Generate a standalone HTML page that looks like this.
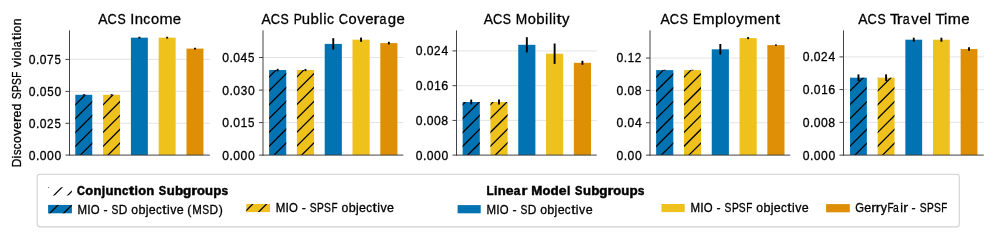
<!DOCTYPE html>
<html><head><meta charset="utf-8"><style>html,body{margin:0;padding:0;background:#fff;overflow:hidden}</style></head><body>
<svg width="996" height="233" viewBox="0 0 996 233" style="display:block;font-kerning:none;will-change:transform">
<defs><clipPath id="c1"><rect x="75.3" y="94.8" width="16.95" height="60.3"/></clipPath><clipPath id="c2"><rect x="103.1" y="94.8" width="16.95" height="60.3"/></clipPath><clipPath id="c3"><rect x="269.1" y="70.05" width="17.15" height="85.05"/></clipPath><clipPath id="c4"><rect x="296.9" y="70.05" width="17.15" height="85.05"/></clipPath><clipPath id="c5"><rect x="462.65" y="102" width="17.15" height="53.1"/></clipPath><clipPath id="c6"><rect x="490.45" y="102" width="17.15" height="53.1"/></clipPath><clipPath id="c7"><rect x="656.15" y="70.1" width="17.15" height="85"/></clipPath><clipPath id="c8"><rect x="683.95" y="70.1" width="17.15" height="85"/></clipPath><clipPath id="c9"><rect x="850.05" y="77.7" width="16.8" height="77.4"/></clipPath><clipPath id="c10"><rect x="877.7" y="77.7" width="16.8" height="77.4"/></clipPath><clipPath id="c11"><rect x="48.1" y="187.2" width="23.8" height="8.2"/></clipPath><clipPath id="c12"><rect x="48.1" y="204.9" width="23.8" height="8.4"/></clipPath><clipPath id="c13"><rect x="246.3" y="204" width="23.7" height="8.1"/></clipPath></defs>
<rect width="996" height="233" fill="#fff"/>
<line x1="69.5" x2="209.8" y1="123.3" y2="123.3" stroke="#e3e3e3" stroke-width="0.95"/>
<line x1="69.5" x2="209.8" y1="91.4" y2="91.4" stroke="#e3e3e3" stroke-width="0.95"/>
<line x1="69.5" x2="209.8" y1="59.4" y2="59.4" stroke="#e3e3e3" stroke-width="0.95"/>
<rect x="75.3" y="94.8" width="16.95" height="60.3" fill="#0173B2"/>
<path clip-path="url(#c1)" d="M74.3 105.8L86.3 93.8M74.3 119.63L93.25 100.68M74.3 133.46L93.25 114.51M74.3 147.3L93.25 128.34M79.33 156.1L93.25 142.18M93.16 156.1L93.25 156.01" stroke="#000" stroke-width="1.25" fill="none"/>
<rect x="103.1" y="94.8" width="16.95" height="60.3" fill="#EEC11C"/>
<path clip-path="url(#c2)" d="M102.1 105.66L113.96 93.8M102.1 119.5L121.05 100.55M102.1 133.33L121.05 114.38M102.1 147.16L121.05 128.21M106.99 156.1L121.05 142.04M120.83 156.1L121.05 155.88" stroke="#000" stroke-width="1.25" fill="none"/>
<rect x="130.9" y="37.66" width="16.95" height="117.44" fill="#0173B2"/>
<rect x="158.7" y="37.66" width="16.95" height="117.44" fill="#EEC11C"/>
<rect x="186.5" y="48.6" width="16.95" height="106.5" fill="#DE8F05"/>
<line x1="83.77" x2="83.77" y1="94.2" y2="95.4" stroke="#000" stroke-width="1.9"/>
<line x1="111.57" x2="111.57" y1="94.2" y2="95.4" stroke="#000" stroke-width="1.9"/>
<line x1="139.38" x2="139.38" y1="36.76" y2="38.56" stroke="#000" stroke-width="1.9"/>
<line x1="167.17" x2="167.17" y1="36.76" y2="38.56" stroke="#000" stroke-width="1.9"/>
<line x1="194.97" x2="194.97" y1="47.7" y2="49.5" stroke="#000" stroke-width="1.9"/>
<line x1="69.5" x2="69.5" y1="30.4" y2="155.57" stroke="#3a3a3a" stroke-width="0.95"/>
<line x1="69.03" x2="209.8" y1="155.1" y2="155.1" stroke="#3a3a3a" stroke-width="0.95"/>
<line x1="65.47" x2="69.5" y1="155.1" y2="155.1" stroke="#3a3a3a" stroke-width="0.95"/>
<g font-family="Liberation Sans, sans-serif" font-size="12.22" stroke="#000" stroke-width="0.3"><text transform="matrix(0.994 0 0 1 28.72 159.5)">0</text><text x="35.9" y="159.5">.</text><text transform="matrix(0.994 0 0 1 39.72 159.5)">0</text><text transform="matrix(0.994 0 0 1 47.05 159.5)">0</text><text transform="matrix(0.994 0 0 1 54.39 159.5)">0</text></g>
<line x1="65.47" x2="69.5" y1="123.3" y2="123.3" stroke="#3a3a3a" stroke-width="0.95"/>
<g font-family="Liberation Sans, sans-serif" font-size="12.22" stroke="#000" stroke-width="0.3"><text transform="matrix(0.994 0 0 1 28.72 127.7)">0</text><text x="35.9" y="127.7">.</text><text transform="matrix(0.994 0 0 1 39.72 127.7)">0</text><text transform="matrix(0.959 0 0 1 47.02 127.7)">2</text><text transform="matrix(0.939 0 0 1 54.53 127.7)">5</text></g>
<line x1="65.47" x2="69.5" y1="91.4" y2="91.4" stroke="#3a3a3a" stroke-width="0.95"/>
<g font-family="Liberation Sans, sans-serif" font-size="12.22" stroke="#000" stroke-width="0.3"><text transform="matrix(0.994 0 0 1 28.72 95.8)">0</text><text x="35.9" y="95.8">.</text><text transform="matrix(0.994 0 0 1 39.72 95.8)">0</text><text transform="matrix(0.939 0 0 1 47.2 95.8)">5</text><text transform="matrix(0.994 0 0 1 54.39 95.8)">0</text></g>
<line x1="65.47" x2="69.5" y1="59.4" y2="59.4" stroke="#3a3a3a" stroke-width="0.95"/>
<g font-family="Liberation Sans, sans-serif" font-size="12.22" stroke="#000" stroke-width="0.3"><text transform="matrix(0.994 0 0 1 28.72 63.8)">0</text><text x="35.9" y="63.8">.</text><text transform="matrix(0.994 0 0 1 39.72 63.8)">0</text><text transform="matrix(0.973 0 0 1 47.11 63.8)">7</text><text transform="matrix(0.939 0 0 1 54.53 63.8)">5</text></g>
<g font-family="Liberation Sans, sans-serif" font-size="14.66" stroke="#000" stroke-width="0.3"><text transform="matrix(0.950 0 0 1 98.32 23.8)">A</text><text transform="matrix(0.876 0 0 1 107.59 23.8)">C</text><text transform="matrix(0.841 0 0 1 117.47 23.8)">S</text><text x="130.3" y="23.8">I</text><text transform="matrix(1.017 0 0 1 134.64 23.8)">n</text><text transform="matrix(0.947 0 0 1 143.31 23.8)">c</text><text x="150.89" y="23.8">o</text><text transform="matrix(1.075 0 0 1 159.41 23.8)">m</text><text transform="matrix(1.019 0 0 1 172.8 23.8)">e</text></g>
<line x1="263" x2="403.3" y1="122.6" y2="122.6" stroke="#e3e3e3" stroke-width="0.95"/>
<line x1="263" x2="403.3" y1="90.1" y2="90.1" stroke="#e3e3e3" stroke-width="0.95"/>
<line x1="263" x2="403.3" y1="57.5" y2="57.5" stroke="#e3e3e3" stroke-width="0.95"/>
<rect x="269.1" y="70.05" width="17.15" height="85.05" fill="#0173B2"/>
<path clip-path="url(#c3)" d="M268.1 77.99L277.04 69.05M268.1 91.82L287.25 72.68M268.1 105.66L287.25 86.51M268.1 119.49L287.25 100.34M268.1 133.32L287.25 114.17M268.1 147.16L287.25 128.01M272.99 156.1L287.25 141.84M286.82 156.1L287.25 155.67" stroke="#000" stroke-width="1.25" fill="none"/>
<rect x="296.9" y="70.05" width="17.15" height="85.05" fill="#EEC11C"/>
<path clip-path="url(#c4)" d="M295.9 77.86L304.71 69.05M295.9 91.69L315.05 72.54M295.9 105.52L315.05 86.37M295.9 119.36L315.05 100.21M295.9 133.19L315.05 114.04M295.9 147.02L315.05 127.87M300.66 156.1L315.05 141.71M314.49 156.1L315.05 155.54" stroke="#000" stroke-width="1.25" fill="none"/>
<rect x="324.7" y="43.9" width="17.15" height="111.2" fill="#0173B2"/>
<rect x="352.5" y="39.7" width="17.15" height="115.4" fill="#EEC11C"/>
<rect x="380.3" y="43.1" width="17.15" height="112" fill="#DE8F05"/>
<line x1="277.68" x2="277.68" y1="68.85" y2="71.25" stroke="#000" stroke-width="1.9"/>
<line x1="305.48" x2="305.48" y1="68.95" y2="71.15" stroke="#000" stroke-width="1.9"/>
<line x1="333.28" x2="333.28" y1="38.2" y2="49.6" stroke="#000" stroke-width="1.9"/>
<line x1="361.07" x2="361.07" y1="37.6" y2="41.8" stroke="#000" stroke-width="1.9"/>
<line x1="388.88" x2="388.88" y1="41.8" y2="44.4" stroke="#000" stroke-width="1.9"/>
<line x1="263" x2="263" y1="30.4" y2="155.57" stroke="#3a3a3a" stroke-width="0.95"/>
<line x1="262.52" x2="403.3" y1="155.1" y2="155.1" stroke="#3a3a3a" stroke-width="0.95"/>
<line x1="258.97" x2="263" y1="155.1" y2="155.1" stroke="#3a3a3a" stroke-width="0.95"/>
<g font-family="Liberation Sans, sans-serif" font-size="12.22" stroke="#000" stroke-width="0.3"><text transform="matrix(0.994 0 0 1 222.22 159.5)">0</text><text x="229.4" y="159.5">.</text><text transform="matrix(0.994 0 0 1 233.22 159.5)">0</text><text transform="matrix(0.994 0 0 1 240.55 159.5)">0</text><text transform="matrix(0.994 0 0 1 247.89 159.5)">0</text></g>
<line x1="258.97" x2="263" y1="122.6" y2="122.6" stroke="#3a3a3a" stroke-width="0.95"/>
<g font-family="Liberation Sans, sans-serif" font-size="12.22" stroke="#000" stroke-width="0.3"><text transform="matrix(0.994 0 0 1 222.22 127)">0</text><text x="229.4" y="127">.</text><text transform="matrix(0.994 0 0 1 233.22 127)">0</text><text transform="matrix(0.950 0 0 1 240.65 127)">1</text><text transform="matrix(0.939 0 0 1 248.03 127)">5</text></g>
<line x1="258.97" x2="263" y1="90.1" y2="90.1" stroke="#3a3a3a" stroke-width="0.95"/>
<g font-family="Liberation Sans, sans-serif" font-size="12.22" stroke="#000" stroke-width="0.3"><text transform="matrix(0.994 0 0 1 222.22 94.5)">0</text><text x="229.4" y="94.5">.</text><text transform="matrix(0.994 0 0 1 233.22 94.5)">0</text><text transform="matrix(0.955 0 0 1 240.7 94.5)">3</text><text transform="matrix(0.994 0 0 1 247.89 94.5)">0</text></g>
<line x1="258.97" x2="263" y1="57.5" y2="57.5" stroke="#3a3a3a" stroke-width="0.95"/>
<g font-family="Liberation Sans, sans-serif" font-size="12.22" stroke="#000" stroke-width="0.3"><text transform="matrix(0.994 0 0 1 222.22 61.9)">0</text><text x="229.4" y="61.9">.</text><text transform="matrix(0.994 0 0 1 233.22 61.9)">0</text><text transform="matrix(0.995 0 0 1 240.55 61.9)">4</text><text transform="matrix(0.939 0 0 1 248.03 61.9)">5</text></g>
<g font-family="Liberation Sans, sans-serif" font-size="14.66" stroke="#000" stroke-width="0.3"><text transform="matrix(0.950 0 0 1 261.43 23.8)">A</text><text transform="matrix(0.876 0 0 1 270.69 23.8)">C</text><text transform="matrix(0.841 0 0 1 280.57 23.8)">S</text><text transform="matrix(0.834 0 0 1 293.75 23.8)">P</text><text transform="matrix(1.017 0 0 1 301.7 23.8)">u</text><text transform="matrix(1.026 0 0 1 310.54 23.8)">b</text><text x="319.33" y="23.8">l</text><text x="323.18" y="23.8">i</text><text transform="matrix(0.947 0 0 1 326.89 23.8)">c</text><text transform="matrix(0.876 0 0 1 338.85 23.8)">C</text><text x="348.52" y="23.8">o</text><text transform="matrix(1.018 0 0 1 357.2 23.8)">v</text><text transform="matrix(1.019 0 0 1 365.15 23.8)">e</text><text transform="matrix(1.209 0 0 1 373.61 23.8)">r</text><text transform="matrix(0.848 0 0 1 379.52 23.8)">a</text><text transform="matrix(1.025 0 0 1 387.82 23.8)">g</text><text transform="matrix(1.019 0 0 1 396.6 23.8)">e</text></g>
<line x1="456.5" x2="596.8" y1="120.4" y2="120.4" stroke="#e3e3e3" stroke-width="0.95"/>
<line x1="456.5" x2="596.8" y1="85.7" y2="85.7" stroke="#e3e3e3" stroke-width="0.95"/>
<line x1="456.5" x2="596.8" y1="50.9" y2="50.9" stroke="#e3e3e3" stroke-width="0.95"/>
<rect x="462.65" y="102" width="17.15" height="53.1" fill="#0173B2"/>
<path clip-path="url(#c5)" d="M461.65 105.77L466.42 101M461.65 119.6L480.25 101M461.65 133.44L480.8 114.29M461.65 147.27L480.8 128.12M466.65 156.1L480.8 141.95M480.49 156.1L480.8 155.79" stroke="#000" stroke-width="1.25" fill="none"/>
<rect x="490.45" y="102" width="17.15" height="53.1" fill="#EEC11C"/>
<path clip-path="url(#c6)" d="M489.45 105.64L494.09 101M489.45 119.47L507.92 101M489.45 133.3L508.6 114.15M489.45 147.14L508.6 127.99M494.32 156.1L508.6 141.82M508.15 156.1L508.6 155.65" stroke="#000" stroke-width="1.25" fill="none"/>
<rect x="518.25" y="44.8" width="17.15" height="110.3" fill="#0173B2"/>
<rect x="546.05" y="53.7" width="17.15" height="101.4" fill="#EEC11C"/>
<rect x="573.85" y="62.8" width="17.15" height="92.3" fill="#DE8F05"/>
<line x1="471.22" x2="471.22" y1="99.6" y2="104.4" stroke="#000" stroke-width="1.9"/>
<line x1="499.02" x2="499.02" y1="99.6" y2="104.4" stroke="#000" stroke-width="1.9"/>
<line x1="526.83" x2="526.83" y1="37.2" y2="52.4" stroke="#000" stroke-width="1.9"/>
<line x1="554.62" x2="554.62" y1="43.5" y2="63.9" stroke="#000" stroke-width="1.9"/>
<line x1="582.43" x2="582.43" y1="60.8" y2="64.8" stroke="#000" stroke-width="1.9"/>
<line x1="456.5" x2="456.5" y1="30.4" y2="155.57" stroke="#3a3a3a" stroke-width="0.95"/>
<line x1="456.02" x2="596.8" y1="155.1" y2="155.1" stroke="#3a3a3a" stroke-width="0.95"/>
<line x1="452.47" x2="456.5" y1="155.1" y2="155.1" stroke="#3a3a3a" stroke-width="0.95"/>
<g font-family="Liberation Sans, sans-serif" font-size="12.22" stroke="#000" stroke-width="0.3"><text transform="matrix(0.994 0 0 1 415.72 159.5)">0</text><text x="422.9" y="159.5">.</text><text transform="matrix(0.994 0 0 1 426.72 159.5)">0</text><text transform="matrix(0.994 0 0 1 434.05 159.5)">0</text><text transform="matrix(0.994 0 0 1 441.39 159.5)">0</text></g>
<line x1="452.47" x2="456.5" y1="120.4" y2="120.4" stroke="#3a3a3a" stroke-width="0.95"/>
<g font-family="Liberation Sans, sans-serif" font-size="12.22" stroke="#000" stroke-width="0.3"><text transform="matrix(0.994 0 0 1 415.72 124.8)">0</text><text x="422.9" y="124.8">.</text><text transform="matrix(0.994 0 0 1 426.72 124.8)">0</text><text transform="matrix(0.994 0 0 1 434.05 124.8)">0</text><text transform="matrix(1.005 0 0 1 441.35 124.8)">8</text></g>
<line x1="452.47" x2="456.5" y1="85.7" y2="85.7" stroke="#3a3a3a" stroke-width="0.95"/>
<g font-family="Liberation Sans, sans-serif" font-size="12.22" stroke="#000" stroke-width="0.3"><text transform="matrix(0.994 0 0 1 415.72 90.1)">0</text><text x="422.9" y="90.1">.</text><text transform="matrix(0.994 0 0 1 426.72 90.1)">0</text><text transform="matrix(0.950 0 0 1 434.15 90.1)">1</text><text transform="matrix(1.029 0 0 1 441.27 90.1)">6</text></g>
<line x1="452.47" x2="456.5" y1="50.9" y2="50.9" stroke="#3a3a3a" stroke-width="0.95"/>
<g font-family="Liberation Sans, sans-serif" font-size="12.22" stroke="#000" stroke-width="0.3"><text transform="matrix(0.994 0 0 1 415.72 55.3)">0</text><text x="422.9" y="55.3">.</text><text transform="matrix(0.994 0 0 1 426.72 55.3)">0</text><text transform="matrix(0.959 0 0 1 434.02 55.3)">2</text><text transform="matrix(0.995 0 0 1 441.39 55.3)">4</text></g>
<g font-family="Liberation Sans, sans-serif" font-size="14.66" stroke="#000" stroke-width="0.3"><text transform="matrix(0.950 0 0 1 483.65 23.8)">A</text><text transform="matrix(0.876 0 0 1 492.92 23.8)">C</text><text transform="matrix(0.841 0 0 1 502.8 23.8)">S</text><text transform="matrix(0.941 0 0 1 515.85 23.8)">M</text><text x="527.7" y="23.8">o</text><text transform="matrix(1.026 0 0 1 536.3 23.8)">b</text><text x="545.09" y="23.8">i</text><text x="548.93" y="23.8">l</text><text x="552.78" y="23.8">i</text><text transform="matrix(1.261 0 0 1 556.41 23.8)">t</text><text transform="matrix(1.013 0 0 1 562.12 23.8)">y</text></g>
<line x1="650" x2="790.3" y1="122.75" y2="122.75" stroke="#e3e3e3" stroke-width="0.95"/>
<line x1="650" x2="790.3" y1="90.4" y2="90.4" stroke="#e3e3e3" stroke-width="0.95"/>
<line x1="650" x2="790.3" y1="58.05" y2="58.05" stroke="#e3e3e3" stroke-width="0.95"/>
<rect x="656.15" y="70.1" width="17.15" height="85" fill="#0173B2"/>
<path clip-path="url(#c7)" d="M655.15 78.27L664.32 69.1M655.15 92.1L674.3 72.95M655.15 105.93L674.3 86.78M655.15 119.77L674.3 100.62M655.15 133.6L674.3 114.45M655.15 147.43L674.3 128.28M660.31 156.1L674.3 142.11M674.15 156.1L674.3 155.95" stroke="#000" stroke-width="1.25" fill="none"/>
<rect x="683.95" y="70.1" width="17.15" height="85" fill="#EEC11C"/>
<path clip-path="url(#c8)" d="M682.95 78.13L691.98 69.1M682.95 91.97L702.1 72.82M682.95 105.8L702.1 86.65M682.95 119.63L702.1 100.48M682.95 133.46L702.1 114.31M682.95 147.3L702.1 128.15M687.98 156.1L702.1 141.98M701.81 156.1L702.1 155.81" stroke="#000" stroke-width="1.25" fill="none"/>
<rect x="711.75" y="49.3" width="17.15" height="105.8" fill="#0173B2"/>
<rect x="739.55" y="38.1" width="17.15" height="117" fill="#EEC11C"/>
<rect x="767.35" y="45.1" width="17.15" height="110" fill="#DE8F05"/>
<line x1="664.73" x2="664.73" y1="69.75" y2="70.45" stroke="#000" stroke-width="1.9"/>
<line x1="692.52" x2="692.52" y1="69.75" y2="70.45" stroke="#000" stroke-width="1.9"/>
<line x1="720.33" x2="720.33" y1="44" y2="54.6" stroke="#000" stroke-width="1.9"/>
<line x1="748.12" x2="748.12" y1="37.1" y2="39.1" stroke="#000" stroke-width="1.9"/>
<line x1="775.93" x2="775.93" y1="44.4" y2="45.8" stroke="#000" stroke-width="1.9"/>
<line x1="650" x2="650" y1="30.4" y2="155.57" stroke="#3a3a3a" stroke-width="0.95"/>
<line x1="649.52" x2="790.3" y1="155.1" y2="155.1" stroke="#3a3a3a" stroke-width="0.95"/>
<line x1="645.97" x2="650" y1="155.1" y2="155.1" stroke="#3a3a3a" stroke-width="0.95"/>
<g font-family="Liberation Sans, sans-serif" font-size="12.22" stroke="#000" stroke-width="0.3"><text transform="matrix(0.994 0 0 1 616.55 159.5)">0</text><text x="623.73" y="159.5">.</text><text transform="matrix(0.994 0 0 1 627.55 159.5)">0</text><text transform="matrix(0.994 0 0 1 634.89 159.5)">0</text></g>
<line x1="645.97" x2="650" y1="122.75" y2="122.75" stroke="#3a3a3a" stroke-width="0.95"/>
<g font-family="Liberation Sans, sans-serif" font-size="12.22" stroke="#000" stroke-width="0.3"><text transform="matrix(0.994 0 0 1 616.55 127.15)">0</text><text x="623.73" y="127.15">.</text><text transform="matrix(0.994 0 0 1 627.55 127.15)">0</text><text transform="matrix(0.995 0 0 1 634.89 127.15)">4</text></g>
<line x1="645.97" x2="650" y1="90.4" y2="90.4" stroke="#3a3a3a" stroke-width="0.95"/>
<g font-family="Liberation Sans, sans-serif" font-size="12.22" stroke="#000" stroke-width="0.3"><text transform="matrix(0.994 0 0 1 616.55 94.8)">0</text><text x="623.73" y="94.8">.</text><text transform="matrix(0.994 0 0 1 627.55 94.8)">0</text><text transform="matrix(1.005 0 0 1 634.85 94.8)">8</text></g>
<line x1="645.97" x2="650" y1="58.05" y2="58.05" stroke="#3a3a3a" stroke-width="0.95"/>
<g font-family="Liberation Sans, sans-serif" font-size="12.22" stroke="#000" stroke-width="0.3"><text transform="matrix(0.994 0 0 1 616.55 62.45)">0</text><text x="623.73" y="62.45">.</text><text transform="matrix(0.950 0 0 1 627.65 62.45)">1</text><text transform="matrix(0.959 0 0 1 634.86 62.45)">2</text></g>
<g font-family="Liberation Sans, sans-serif" font-size="14.66" stroke="#000" stroke-width="0.3"><text transform="matrix(0.950 0 0 1 660.59 23.8)">A</text><text transform="matrix(0.876 0 0 1 669.86 23.8)">C</text><text transform="matrix(0.841 0 0 1 679.74 23.8)">S</text><text transform="matrix(0.818 0 0 1 692.94 23.8)">E</text><text transform="matrix(1.075 0 0 1 701.51 23.8)">m</text><text transform="matrix(1.026 0 0 1 715.06 23.8)">p</text><text x="723.84" y="23.8">l</text><text x="727.54" y="23.8">o</text><text transform="matrix(1.013 0 0 1 736.23 23.8)">y</text><text transform="matrix(1.075 0 0 1 744.25 23.8)">m</text><text transform="matrix(1.019 0 0 1 757.64 23.8)">e</text><text transform="matrix(1.017 0 0 1 766.29 23.8)">n</text><text transform="matrix(1.261 0 0 1 774.88 23.8)">t</text></g>
<line x1="843.5" x2="983.8" y1="122.4" y2="122.4" stroke="#e3e3e3" stroke-width="0.95"/>
<line x1="843.5" x2="983.8" y1="89.6" y2="89.6" stroke="#e3e3e3" stroke-width="0.95"/>
<line x1="843.5" x2="983.8" y1="56.9" y2="56.9" stroke="#e3e3e3" stroke-width="0.95"/>
<rect x="850.05" y="77.7" width="16.8" height="77.4" fill="#0173B2"/>
<path clip-path="url(#c9)" d="M849.05 78.03L850.38 76.7M849.05 91.86L864.21 76.7M849.05 105.69L867.85 86.89M849.05 119.53L867.85 100.73M849.05 133.36L867.85 114.56M849.05 147.19L867.85 128.39M853.98 156.1L867.85 142.23M867.81 156.1L867.85 156.06" stroke="#000" stroke-width="1.25" fill="none"/>
<rect x="877.7" y="77.7" width="16.8" height="77.4" fill="#EEC11C"/>
<path clip-path="url(#c10)" d="M876.7 78.04L878.04 76.7M876.7 91.88L891.88 76.7M876.7 105.71L895.5 86.91M876.7 119.54L895.5 100.74M876.7 133.38L895.5 114.58M876.7 147.21L895.5 128.41M881.64 156.1L895.5 142.24M895.47 156.1L895.5 156.07" stroke="#000" stroke-width="1.25" fill="none"/>
<rect x="905.35" y="39.7" width="16.8" height="115.4" fill="#0173B2"/>
<rect x="933" y="39.7" width="16.8" height="115.4" fill="#EEC11C"/>
<rect x="960.65" y="49.05" width="16.8" height="106.05" fill="#DE8F05"/>
<line x1="858.45" x2="858.45" y1="74.4" y2="81" stroke="#000" stroke-width="1.9"/>
<line x1="886.1" x2="886.1" y1="74.4" y2="81" stroke="#000" stroke-width="1.9"/>
<line x1="913.75" x2="913.75" y1="37.7" y2="41.7" stroke="#000" stroke-width="1.9"/>
<line x1="941.4" x2="941.4" y1="37.7" y2="41.7" stroke="#000" stroke-width="1.9"/>
<line x1="969.05" x2="969.05" y1="47.25" y2="50.85" stroke="#000" stroke-width="1.9"/>
<line x1="843.5" x2="843.5" y1="30.4" y2="155.57" stroke="#3a3a3a" stroke-width="0.95"/>
<line x1="843.02" x2="983.8" y1="155.1" y2="155.1" stroke="#3a3a3a" stroke-width="0.95"/>
<line x1="839.47" x2="843.5" y1="155.1" y2="155.1" stroke="#3a3a3a" stroke-width="0.95"/>
<g font-family="Liberation Sans, sans-serif" font-size="12.22" stroke="#000" stroke-width="0.3"><text transform="matrix(0.994 0 0 1 802.72 159.5)">0</text><text x="809.9" y="159.5">.</text><text transform="matrix(0.994 0 0 1 813.72 159.5)">0</text><text transform="matrix(0.994 0 0 1 821.05 159.5)">0</text><text transform="matrix(0.994 0 0 1 828.39 159.5)">0</text></g>
<line x1="839.47" x2="843.5" y1="122.4" y2="122.4" stroke="#3a3a3a" stroke-width="0.95"/>
<g font-family="Liberation Sans, sans-serif" font-size="12.22" stroke="#000" stroke-width="0.3"><text transform="matrix(0.994 0 0 1 802.72 126.8)">0</text><text x="809.9" y="126.8">.</text><text transform="matrix(0.994 0 0 1 813.72 126.8)">0</text><text transform="matrix(0.994 0 0 1 821.05 126.8)">0</text><text transform="matrix(1.005 0 0 1 828.35 126.8)">8</text></g>
<line x1="839.47" x2="843.5" y1="89.6" y2="89.6" stroke="#3a3a3a" stroke-width="0.95"/>
<g font-family="Liberation Sans, sans-serif" font-size="12.22" stroke="#000" stroke-width="0.3"><text transform="matrix(0.994 0 0 1 802.72 94)">0</text><text x="809.9" y="94">.</text><text transform="matrix(0.994 0 0 1 813.72 94)">0</text><text transform="matrix(0.950 0 0 1 821.15 94)">1</text><text transform="matrix(1.029 0 0 1 828.27 94)">6</text></g>
<line x1="839.47" x2="843.5" y1="56.9" y2="56.9" stroke="#3a3a3a" stroke-width="0.95"/>
<g font-family="Liberation Sans, sans-serif" font-size="12.22" stroke="#000" stroke-width="0.3"><text transform="matrix(0.994 0 0 1 802.72 61.3)">0</text><text x="809.9" y="61.3">.</text><text transform="matrix(0.994 0 0 1 813.72 61.3)">0</text><text transform="matrix(0.959 0 0 1 821.02 61.3)">2</text><text transform="matrix(0.995 0 0 1 828.39 61.3)">4</text></g>
<g font-family="Liberation Sans, sans-serif" font-size="14.66" stroke="#000" stroke-width="0.3"><text transform="matrix(0.950 0 0 1 858.3 23.8)">A</text><text transform="matrix(0.876 0 0 1 867.56 23.8)">C</text><text transform="matrix(0.841 0 0 1 877.45 23.8)">S</text><text transform="matrix(1.029 0 0 1 889.89 23.8)">T</text><text transform="matrix(1.209 0 0 1 896.76 23.8)">r</text><text transform="matrix(0.848 0 0 1 902.67 23.8)">a</text><text transform="matrix(1.018 0 0 1 911.21 23.8)">v</text><text transform="matrix(1.019 0 0 1 919.16 23.8)">e</text><text x="927.83" y="23.8">l</text><text transform="matrix(1.029 0 0 1 935.4 23.8)">T</text><text x="944.1" y="23.8">i</text><text transform="matrix(1.075 0 0 1 947.85 23.8)">m</text><text transform="matrix(1.019 0 0 1 961.24 23.8)">e</text></g>
<g transform="translate(21.3 166.39) rotate(-90)"><g font-family="Liberation Sans, sans-serif" font-size="12.22" stroke="#000" stroke-width="0.3"><text transform="matrix(0.976 0 0 1 -0.98 0)">D</text><text x="8" y="0">i</text><text transform="matrix(0.904 0 0 1 11.27 0)">s</text><text transform="matrix(0.947 0 0 1 17.1 0)">c</text><text x="23.42" y="0">o</text><text transform="matrix(1.018 0 0 1 30.65 0)">v</text><text transform="matrix(1.019 0 0 1 37.28 0)">e</text><text transform="matrix(1.209 0 0 1 44.33 0)">r</text><text transform="matrix(1.019 0 0 1 48.86 0)">e</text><text transform="matrix(1.025 0 0 1 55.96 0)">d</text><text transform="matrix(0.841 0 0 1 67.13 0)">S</text><text transform="matrix(0.834 0 0 1 74.45 0)">P</text><text transform="matrix(0.841 0 0 1 81.4 0)">S</text><text transform="matrix(0.809 0 0 1 88.74 0)">F</text><text transform="matrix(1.018 0 0 1 99.02 0)">v</text><text x="105.79" y="0">i</text><text x="108.87" y="0">o</text><text x="116.04" y="0">l</text><text transform="matrix(0.848 0 0 1 119.26 0)">a</text><text transform="matrix(1.261 0 0 1 126.15 0)">t</text><text x="130.84" y="0">i</text><text x="133.92" y="0">o</text><text transform="matrix(1.017 0 0 1 141.07 0)">n</text></g></g>
<rect x="37.15" y="174.25" width="922.1" height="52.6" rx="2.8" ry="2.8" fill="#fff" stroke="#d0d0d0" stroke-width="1.1"/>
<path clip-path="url(#c11)" d="M47.1 188.33L49.23 186.2M52.86 196.4L63.06 186.2M66.69 196.4L72.9 190.19" stroke="#000" stroke-width="1.25" fill="none"/>
<g font-weight="bold" font-family="Liberation Sans, sans-serif" font-size="12.22" stroke="#000" stroke-width="0.45"><text transform="matrix(0.895 0 0 1 77.05 195.2)">C</text><text transform="matrix(1.064 0 0 1 85.37 195.2)">o</text><text transform="matrix(1.074 0 0 1 93.41 195.2)">n</text><text x="101.64" y="195.2">j</text><text transform="matrix(1.074 0 0 1 105.56 195.2)">u</text><text transform="matrix(1.074 0 0 1 113.78 195.2)">n</text><text transform="matrix(0.934 0 0 1 121.94 195.2)">c</text><text transform="matrix(1.351 0 0 1 128.67 195.2)">t</text><text x="134.52" y="195.2">i</text><text transform="matrix(1.064 0 0 1 138.17 195.2)">o</text><text transform="matrix(1.074 0 0 1 146.21 195.2)">n</text><text transform="matrix(0.906 0 0 1 158.84 195.2)">S</text><text transform="matrix(1.074 0 0 1 166.72 195.2)">u</text><text transform="matrix(1.099 0 0 1 174.92 195.2)">b</text><text transform="matrix(1.101 0 0 1 183.06 195.2)">g</text><text transform="matrix(1.244 0 0 1 191.31 195.2)">r</text><text transform="matrix(1.064 0 0 1 197.02 195.2)">o</text><text transform="matrix(1.074 0 0 1 205.04 195.2)">u</text><text transform="matrix(1.099 0 0 1 213.25 195.2)">p</text><text transform="matrix(0.975 0 0 1 221.59 195.2)">s</text></g>
<rect x="48.1" y="204.9" width="23.8" height="8.4" fill="#0173B2"/><path clip-path="url(#c12)" d="M48.79 214.3L59.19 203.9M62.63 214.3L72.9 204.03" stroke="#000" stroke-width="1.25" fill="none"/>
<g font-family="Liberation Sans, sans-serif" font-size="12.22" stroke="#000" stroke-width="0.3"><text transform="matrix(0.941 0 0 1 77.56 213.6)">M</text><text x="87.32" y="213.6">I</text><text transform="matrix(0.933 0 0 1 90.82 213.6)">O</text><text x="103.5" y="213.6">-</text><text transform="matrix(0.841 0 0 1 111.58 213.6)">S</text><text transform="matrix(0.976 0 0 1 118.75 213.6)">D</text><text x="131.27" y="213.6">o</text><text transform="matrix(1.026 0 0 1 138.44 213.6)">b</text><text x="145.68" y="213.6">j</text><text transform="matrix(1.019 0 0 1 148.83 213.6)">e</text><text transform="matrix(0.947 0 0 1 155.96 213.6)">c</text><text transform="matrix(1.261 0 0 1 162.23 213.6)">t</text><text x="166.93" y="213.6">i</text><text transform="matrix(1.018 0 0 1 170.18 213.6)">v</text><text transform="matrix(1.019 0 0 1 176.81 213.6)">e</text><text x="187.37" y="213.6">(</text><text transform="matrix(0.941 0 0 1 192.15 213.6)">M</text><text transform="matrix(0.841 0 0 1 202.2 213.6)">S</text><text transform="matrix(0.976 0 0 1 209.38 213.6)">D</text><text x="218.63" y="213.6">)</text></g>
<rect x="246.3" y="204.0" width="23.7" height="8.1" fill="#EEC11C"/><path clip-path="url(#c13)" d="M245.3 211.46L253.76 203M257.49 213.1L267.59 203" stroke="#000" stroke-width="1.25" fill="none"/>
<g font-family="Liberation Sans, sans-serif" font-size="12.22" stroke="#000" stroke-width="0.3"><text transform="matrix(0.941 0 0 1 275.76 211.9)">M</text><text x="285.52" y="211.9">I</text><text transform="matrix(0.933 0 0 1 289.02 211.9)">O</text><text x="301.7" y="211.9">-</text><text transform="matrix(0.841 0 0 1 309.78 211.9)">S</text><text transform="matrix(0.834 0 0 1 317.1 211.9)">P</text><text transform="matrix(0.841 0 0 1 324.05 211.9)">S</text><text transform="matrix(0.809 0 0 1 331.39 211.9)">F</text><text x="341.49" y="211.9">o</text><text transform="matrix(1.026 0 0 1 348.66 211.9)">b</text><text x="355.9" y="211.9">j</text><text transform="matrix(1.019 0 0 1 359.05 211.9)">e</text><text transform="matrix(0.947 0 0 1 366.19 211.9)">c</text><text transform="matrix(1.261 0 0 1 372.46 211.9)">t</text><text x="377.15" y="211.9">i</text><text transform="matrix(1.018 0 0 1 380.4 211.9)">v</text><text transform="matrix(1.019 0 0 1 387.03 211.9)">e</text></g>
<g font-weight="bold" font-family="Liberation Sans, sans-serif" font-size="12.22" stroke="#000" stroke-width="0.45"><text transform="matrix(0.952 0 0 1 486.62 195.2)">L</text><text x="493.97" y="195.2">i</text><text transform="matrix(1.074 0 0 1 497.74 195.2)">n</text><text transform="matrix(1.147 0 0 1 505.8 195.2)">e</text><text transform="matrix(0.979 0 0 1 513.81 195.2)">a</text><text transform="matrix(1.244 0 0 1 521.42 195.2)">r</text><text transform="matrix(1.094 0 0 1 531.31 195.2)">M</text><text transform="matrix(1.064 0 0 1 542.61 195.2)">o</text><text transform="matrix(1.099 0 0 1 550.51 195.2)">d</text><text transform="matrix(1.147 0 0 1 558.75 195.2)">e</text><text x="566.9" y="195.2">l</text><text transform="matrix(0.906 0 0 1 575.09 195.2)">S</text><text transform="matrix(1.074 0 0 1 582.98 195.2)">u</text><text transform="matrix(1.099 0 0 1 591.18 195.2)">b</text><text transform="matrix(1.101 0 0 1 599.32 195.2)">g</text><text transform="matrix(1.244 0 0 1 607.57 195.2)">r</text><text transform="matrix(1.064 0 0 1 613.28 195.2)">o</text><text transform="matrix(1.074 0 0 1 621.3 195.2)">u</text><text transform="matrix(1.099 0 0 1 629.5 195.2)">p</text><text transform="matrix(0.975 0 0 1 637.85 195.2)">s</text></g>
<rect x="457.6" y="205.1" width="23.1" height="8.2" fill="#0173B2"/>
<g font-family="Liberation Sans, sans-serif" font-size="12.22" stroke="#000" stroke-width="0.3"><text transform="matrix(0.941 0 0 1 486.46 213.6)">M</text><text x="496.22" y="213.6">I</text><text transform="matrix(0.933 0 0 1 499.72 213.6)">O</text><text x="512.4" y="213.6">-</text><text transform="matrix(0.841 0 0 1 520.48 213.6)">S</text><text transform="matrix(0.976 0 0 1 527.65 213.6)">D</text><text x="540.17" y="213.6">o</text><text transform="matrix(1.026 0 0 1 547.34 213.6)">b</text><text x="554.58" y="213.6">j</text><text transform="matrix(1.019 0 0 1 557.73 213.6)">e</text><text transform="matrix(0.947 0 0 1 564.86 213.6)">c</text><text transform="matrix(1.261 0 0 1 571.13 213.6)">t</text><text x="575.83" y="213.6">i</text><text transform="matrix(1.018 0 0 1 579.08 213.6)">v</text><text transform="matrix(1.019 0 0 1 585.71 213.6)">e</text></g>
<rect x="661.5" y="204.0" width="23.2" height="8.1" fill="#EEC11C"/>
<g font-family="Liberation Sans, sans-serif" font-size="12.22" stroke="#000" stroke-width="0.3"><text transform="matrix(0.941 0 0 1 690.56 211.9)">M</text><text x="700.32" y="211.9">I</text><text transform="matrix(0.933 0 0 1 703.82 211.9)">O</text><text x="716.5" y="211.9">-</text><text transform="matrix(0.841 0 0 1 724.58 211.9)">S</text><text transform="matrix(0.834 0 0 1 731.9 211.9)">P</text><text transform="matrix(0.841 0 0 1 738.85 211.9)">S</text><text transform="matrix(0.809 0 0 1 746.19 211.9)">F</text><text x="756.29" y="211.9">o</text><text transform="matrix(1.026 0 0 1 763.46 211.9)">b</text><text x="770.7" y="211.9">j</text><text transform="matrix(1.019 0 0 1 773.85 211.9)">e</text><text transform="matrix(0.947 0 0 1 780.99 211.9)">c</text><text transform="matrix(1.261 0 0 1 787.26 211.9)">t</text><text x="791.95" y="211.9">i</text><text transform="matrix(1.018 0 0 1 795.2 211.9)">v</text><text transform="matrix(1.019 0 0 1 801.83 211.9)">e</text></g>
<rect x="826.1" y="204.1" width="23.7" height="8.2" fill="#DE8F05"/>
<g font-family="Liberation Sans, sans-serif" font-size="12.22" stroke="#000" stroke-width="0.3"><text transform="matrix(0.920 0 0 1 855.23 212)">G</text><text transform="matrix(1.019 0 0 1 864.19 212)">e</text><text transform="matrix(1.209 0 0 1 871.25 212)">r</text><text transform="matrix(1.209 0 0 1 875.78 212)">r</text><text transform="matrix(1.013 0 0 1 880.77 212)">y</text><text transform="matrix(0.809 0 0 1 887.6 212)">F</text><text transform="matrix(0.848 0 0 1 893.11 212)">a</text><text x="900.17" y="212">i</text><text transform="matrix(1.209 0 0 1 903.19 212)">r</text><text x="911.58" y="212">-</text><text transform="matrix(0.841 0 0 1 919.65 212)">S</text><text transform="matrix(0.834 0 0 1 926.97 212)">P</text><text transform="matrix(0.841 0 0 1 933.92 212)">S</text><text transform="matrix(0.809 0 0 1 941.27 212)">F</text></g>
</svg>
</body></html>
